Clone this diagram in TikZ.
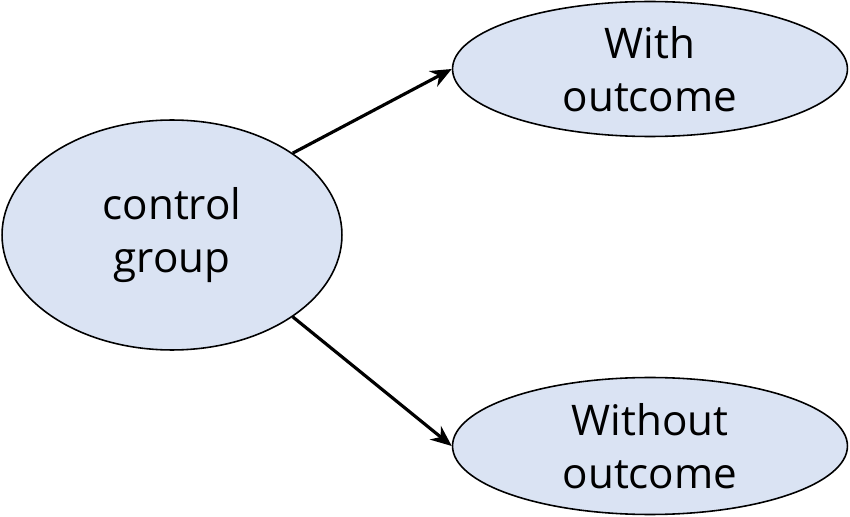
\documentclass[tikz,border=0pt]{standalone}
\usepackage{fontspec}
\setmainfont{Open Sans}
\usetikzlibrary{arrows.meta,shapes.geometric,positioning}

\definecolor{ovalfill}{HTML}{DAE3F3}

\begin{document}
\begin{tikzpicture}[x=0.02cm,y=-0.02cm]
\tikzstyle{every node}=[font=\fontsize{24}{30}\selectfont]
\tikzset{
  oval/.style={ellipse, draw=black, line width=0.9pt, fill=ovalfill,
    inner sep=0pt, align=center},
  link/.style={-{Stealth[length=12pt,width=10pt]}, line width=1.8pt}
}
\useasboundingbox (0,0) rectangle (850,517);

\node[oval, minimum width=6.8cm, minimum height=4.6cm] at (172,235) (ctrl) {control\\group};
\node[oval, minimum width=7.9cm, minimum height=2.7cm] at (650,69) (with) {With\\outcome};
\node[oval, minimum width=7.9cm, minimum height=2.74cm] at (650,446) (without) {Without\\outcome};

\draw[link] (ctrl.north east) -- (with.west);
\draw[link] (ctrl.south east) -- (without.west);

\end{tikzpicture}
\end{document}
